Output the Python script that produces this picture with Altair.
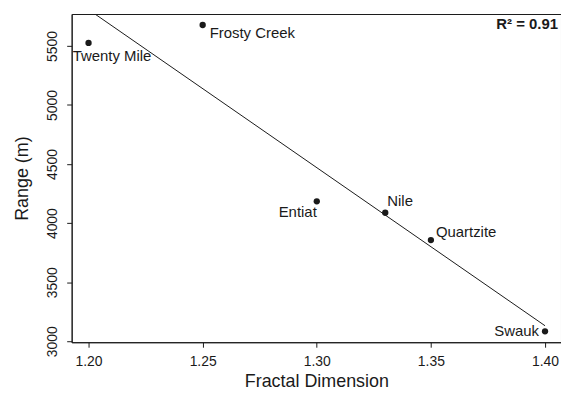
import altair as alt
import pandas as pd

sites = ["Twenty Mile", "Frosty Creek", "Entiat", "Nile", "Quartzite", "Swauk"]
fractal = [1.20, 1.25, 1.30, 1.33, 1.35, 1.40]
range_m = [5525, 5677, 4185, 4088, 3857, 3084]
label_dx = [-16, 7, 0, 2, 5, -6]
label_dy = [13, 8, 11, -12, -8, 0]
label_align = ["left", "left", "right", "left", "left", "right"]
x_ticks = [1.20, 1.25, 1.30, 1.35, 1.40]
y_ticks = [3000, 3500, 4000, 4500, 5000, 5500]

df = pd.DataFrame({"site": sites, "fd": fractal, "range": range_m})

FONT = "Liberation Sans"
INK = "#1a1a1a"

xs = alt.Scale(domain=[1.1926, 1.407], nice=False, zero=False)
ys = alt.Scale(domain=[2992, 5770], nice=False, zero=False)

base = alt.Chart(df)

points = base.mark_circle(size=40, color=INK, opacity=1).encode(
    x=alt.X("fd:Q", scale=xs, title="Fractal Dimension",
            axis=alt.Axis(values=x_ticks, format=".2f", grid=False, domainColor=INK,
                          tickColor=INK, tickSize=5, labelFont=FONT, labelFontSize=14,
                          labelColor=INK, labelPadding=7, titleFont=FONT, titleFontSize=18,
                          titleFontWeight="normal", titleColor=INK, titlePadding=5)),
    y=alt.Y("range:Q", scale=ys, title="Range (m)",
            axis=alt.Axis(values=y_ticks, format="d", grid=False, domainColor=INK,
                          tickColor=INK, tickSize=5, labelFont=FONT, labelFontSize=14,
                          labelColor=INK, labelAngle=270, labelAlign="center",
                          labelBaseline="bottom", labelPadding=7, titleFont=FONT,
                          titleFontSize=18, titleFontWeight="normal", titleColor=INK,
                          titlePadding=14)),
)

layers = [points]
for s, dx, dy, al in zip(sites, label_dx, label_dy, label_align):
    layers.append(
        alt.Chart(df[df.site == s]).mark_text(
            dx=dx, dy=dy, align=al, baseline="middle", font=FONT, fontSize=15, color=INK
        ).encode(x=alt.X("fd:Q", scale=xs), y=alt.Y("range:Q", scale=ys), text="site:N")
    )

reg = base.transform_regression("fd", "range").mark_line(
    color=INK, strokeWidth=1, clip=True
).encode(x=alt.X("fd:Q", scale=xs), y=alt.Y("range:Q", scale=ys))
layers.append(reg)

r2 = alt.Chart(pd.DataFrame({"t": ["R² = 0.91"]})).mark_text(
    align="right", baseline="middle", font=FONT, fontSize=15, fontWeight="bold", color=INK
).encode(x=alt.value(489), y=alt.value(10), text="t:N")
layers.append(r2)

chart = alt.layer(*layers).properties(
    width=492, height=330, background="white",
    padding={"left": 6, "top": 5, "right": 0, "bottom": 0}
).configure_view(stroke=INK, strokeWidth=1)

chart.save("out.html", embed_options={"renderer": "svg", "actions": False})
